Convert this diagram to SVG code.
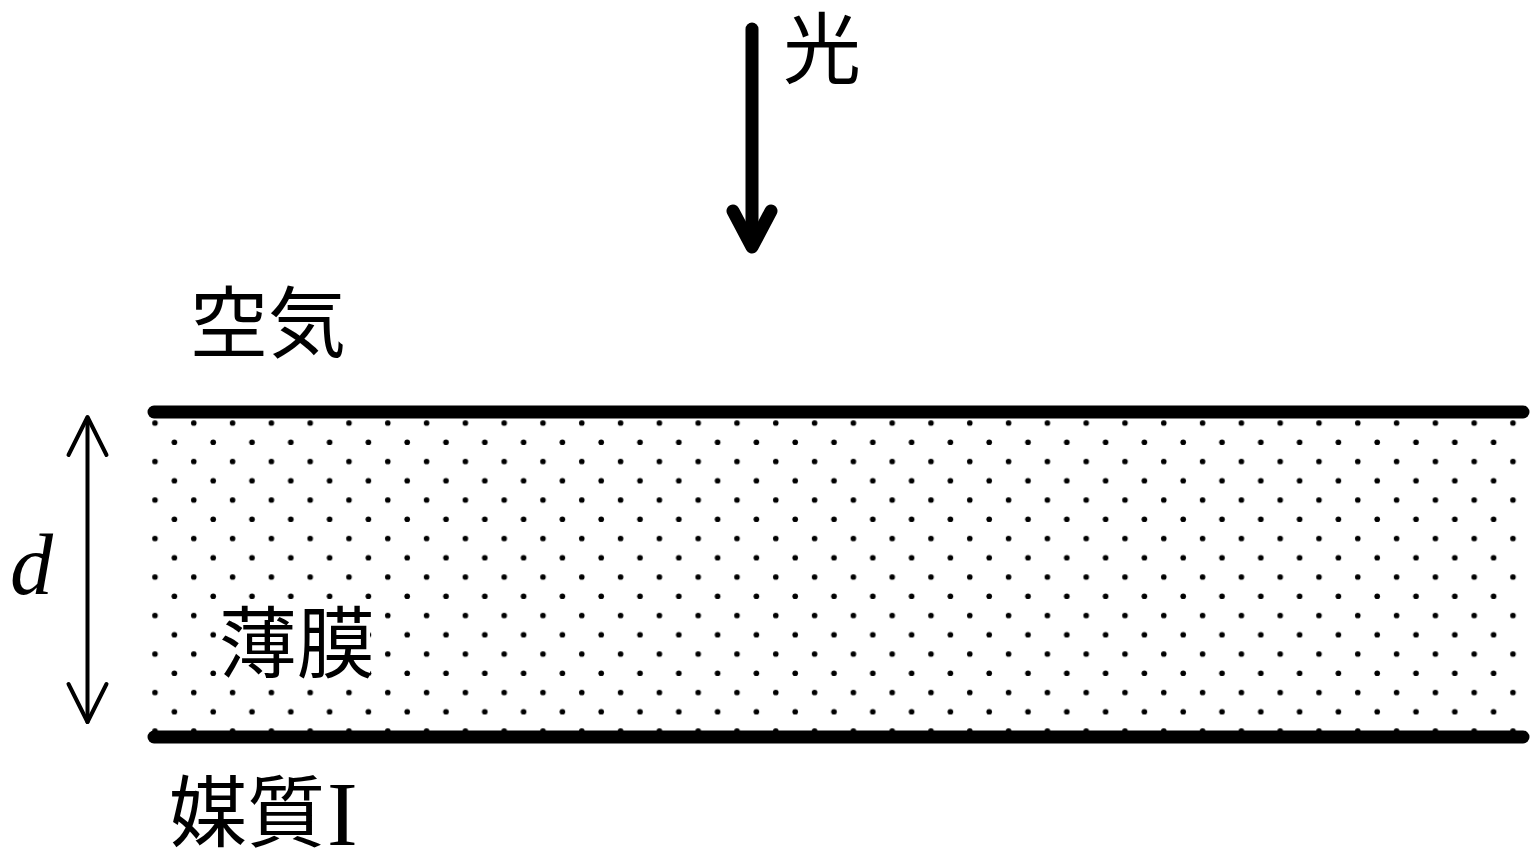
<svg xmlns="http://www.w3.org/2000/svg" width="1536" height="858" viewBox="0 0 1536 858">
<style>
.cjk{font-family:"Noto Sans CJK JP","Noto Sans CJK SC",sans-serif;font-size:78px;fill:#000}
.ser{font-family:"Liberation Serif",serif;fill:#000}
.thick{stroke:#000;stroke-width:13;stroke-linecap:round;stroke-linejoin:round;fill:none}
.thin{stroke:#000;stroke-width:4;stroke-linecap:round;stroke-linejoin:round;fill:none}
</style>
<defs>
<pattern id="dots" patternUnits="userSpaceOnUse" x="145.3" y="413.375" width="38.8" height="38.5">
<circle cx="9.7" cy="9.625" r="2.8" fill="#000"/>
<circle cx="29.1" cy="28.875" r="2.8" fill="#000"/>
</pattern>
</defs>
<rect width="1536" height="858" fill="#fff"/>
<g id="film">
<rect x="148" y="414" width="1380" height="324" fill="url(#dots)"/>
<line class="thick" x1="154" y1="412" x2="1523" y2="412"/>
<line class="thick" x1="154" y1="737" x2="1523" y2="737"/>
</g>
<g id="connectors">
<g id="light-arrow">
<line class="thick" x1="752" y1="29" x2="752" y2="245"/>
<polyline class="thick" points="733,211 752,247 771,211"/>
</g>
<g id="thickness-arrow">
<line class="thin" x1="87.5" y1="418" x2="87.5" y2="722"/>
<polyline class="thin" points="68.5,455 87.5,417 106.5,455"/>
<polyline class="thin" points="68.5,684 87.5,722 106.5,684"/>
</g>
</g>
<g id="label-light"><text class="cjk" x="783" y="78">光</text></g>
<g id="label-air"><text class="cjk" x="190" y="352">空気</text></g>
<g id="label-film">
<rect x="224" y="609" width="146" height="68" fill="#fff"/>
<text class="cjk" x="219" y="672">薄膜</text>
</g>
<g id="label-medium">
<text class="cjk" x="169" y="841">媒質</text>
<text class="ser" x="327" y="845" font-size="92">I</text>
</g>
<g id="label-d"><text class="ser" x="10" y="594" font-size="86" font-style="italic">d</text></g>
</svg>
